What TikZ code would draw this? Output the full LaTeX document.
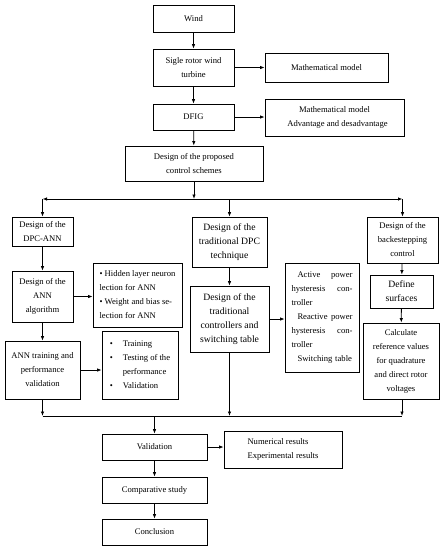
\documentclass[tikz,border=0pt]{standalone}
\usepackage{fontspec}
\setmainfont{Liberation Serif}
\usetikzlibrary{arrows.meta}
\tikzset{
  box/.style={draw, line width=0.8pt, inner sep=0pt, align=center, font=\fontsize{8.6}{14}\selectfont},
  bigbox/.style={box, font=\fontsize{9.7}{14}\selectfont},
  arr/.style={line width=0.8pt, -{Latex[length=4.5pt,width=3.5pt]}},
  ln/.style={line width=0.8pt}
}
\newcommand{\bx}[6]{\node[#1, minimum width=#4pt, minimum height=#5pt] (#2) at (#3) {#6};}
\begin{document}
\begin{tikzpicture}[x=1pt,y=-1pt]
\useasboundingbox (0,0) rectangle (446,550);
\bx{box}{wind}{193.5,18.5}{81}{27}{Wind}
\bx{box}{turb}{193.5,67.5}{81}{37}{Sigle rotor wind\\turbine}
\bx{box}{mma}{326.5,67.5}{123}{29}{Mathematical model}
\bx{box}{dfig}{193.5,117}{81}{26}{DFIG}
\bx{box}{mmb}{334.5,117.5}{139}{37}{Mathematical model\\\hspace{6pt}Advantage and desadvantage}
\bx{box}{prop}{194,163.5}{138}{35}{Design of the proposed\\control schemes}
\bx{box}{dpcann}{42.5,231.5}{61}{29}{Design of the\\DPC-ANN}
\bx{bigbox}{trad}{229.5,242}{75}{50}{Design of the\\traditional DPC\\technique}
\bx{box}{back}{402.5,240}{71}{46}{Design of the\\backestepping\\control}
\bx{box}{annalg}{42.5,296.5}{61}{51}{Design of the\\ANN\\algorithm}
\node[box, align=left, minimum width=89pt, minimum height=64pt] (hid) at (137.5,295)
  {• Hidden layer neuron\\lection for ANN\\• Weight and bias se-\\lection for ANN};
\bx{box}{anntr}{42.5,370}{75}{58}{ANN training and\\performance\\validation}
\node[box, align=left, minimum width=76pt, minimum height=68pt] (train) at (140,365)
  {\makebox[13pt][l]{•}Training\\\makebox[13pt][l]{•}Testing of the\\\hspace{13pt}performance\\\makebox[13pt][l]{•}Validation};
\bx{bigbox}{tradc}{229.5,319}{79}{66}{Design of the\\traditional\\controllers and\\switching table}
\node[box, align=left, text width=61pt, minimum width=74pt, minimum height=109pt, inner xsep=6.5pt] (act) at (322,317.5)
  {\hspace*{6pt}Active\hfill power\\hysteresis\hfill con-\\troller\\\hspace*{6pt}Reactive\hfill power\\hysteresis\hfill con-\\troller\\\hspace*{6pt}Switching table};
\bx{bigbox}{def}{401.5,291.5}{63}{33}{Define\\surfaces}
\bx{box}{calc}{401,361}{76}{76}{Calculate\\reference values\\for quadrature\\and direct rotor\\voltages}
\bx{box}{val}{154.5,447}{105}{26}{Validation}
\node[box, align=left, minimum width=118pt, minimum height=37pt] (num) at (283,449.5)
  {Numerical results\\Experimental results\hspace{10pt}};
\bx{box}{comp}{154.5,490}{105}{26}{Comparative study}
\bx{box}{concl}{154.5,532}{105}{26}{Conclusion}
% coordinates
\coordinate (T) at (194,199);
\coordinate (L1) at (42.5,199);
\coordinate (R1) at (402.5,199);
\coordinate (M1) at (229.5,199);
\coordinate (L2) at (42.5,416);
\coordinate (M2) at (229.5,416);
\coordinate (R2) at (402,416);
\coordinate (C2) at (154.5,416);
% connectors
\draw[arr] (wind) -- (turb);
\draw[arr] (turb) -- (dfig);
\draw[arr] (turb.east) -- (turb.east -| mma.west);
\draw[arr] (dfig.east) -- (dfig.east -| mmb.west);
\draw[arr] (dfig) -- (prop);
\draw[arr] (prop.south -| T) -- (T);
\draw[arr] (T) -- (L1);
\draw[arr] (T) -- (R1);
\draw[arr] (L1) -- (dpcann.north);
\draw[arr] (M1) -- (trad.north);
\draw[arr] (R1) -- (back.north);
\draw[arr] (dpcann) -- (annalg);
\draw[arr] (annalg) -- (anntr);
\draw[arr] (annalg.east) -- (annalg.east -| hid.west);
\draw[arr] (anntr.east) -- (anntr.east -| train.west);
\draw[arr] (trad) -- (tradc);
\draw[arr] (tradc.east) -- (tradc.east -| act.west);
\draw[arr] (back) -- (def);
\draw[arr] (def) -- (calc);
\draw[arr] (anntr.south) -- (L2);
\draw[arr] (tradc.south) -- (M2);
\draw[arr] (calc.south -| R2) -- (R2);
\draw[ln] (L2) -- (R2);
\draw[arr] (C2) -- (val.north);
\draw[arr] (val.east) -- (val.east -| num.west);
\draw[arr] (val) -- (comp);
\draw[arr] (comp) -- (concl);
\end{tikzpicture}
\end{document}
